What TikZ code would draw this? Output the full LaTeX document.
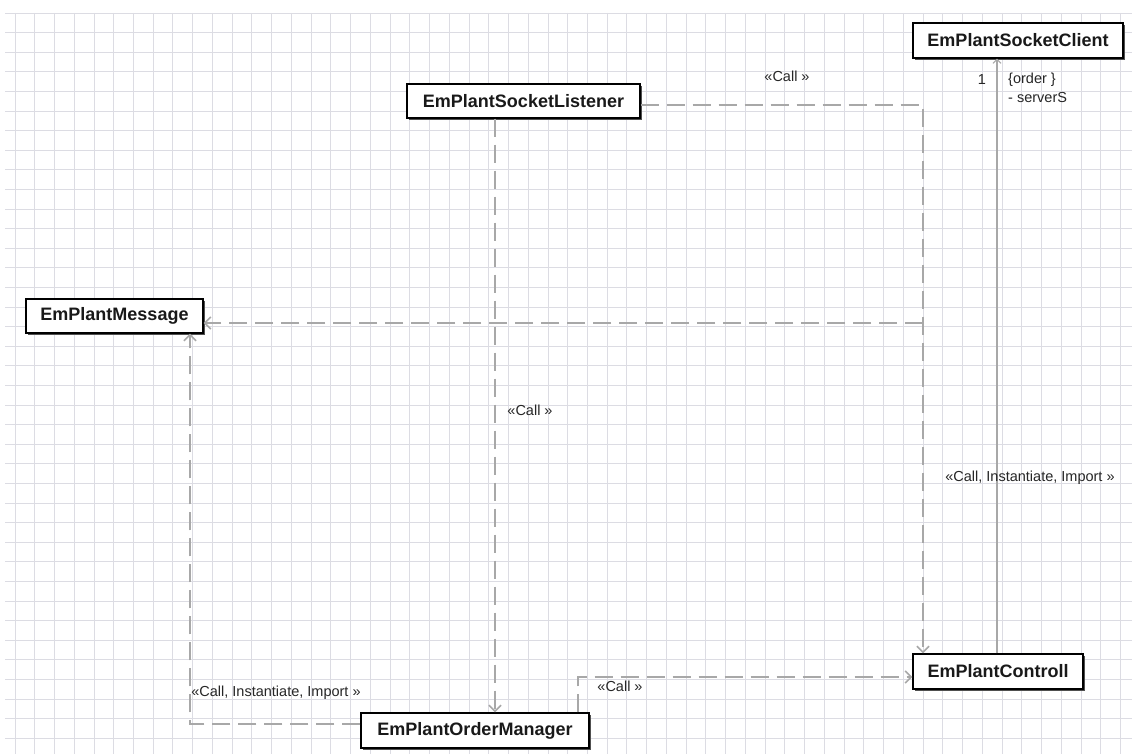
\documentclass[tikz,border=0pt]{standalone}
\usepackage{fontspec}
\setmainfont{Liberation Sans}
\usetikzlibrary{arrows.meta,shadows}
\definecolor{gridcol}{RGB}{220,220,227}
\definecolor{linkcol}{RGB}{168,168,168}
\definecolor{shadowcol}{RGB}{80,80,80}
\begin{document}
\begin{tikzpicture}[x=1pt,y=-1pt,
  classbox/.style={draw=black,line width=1.3pt,fill=white,inner sep=0pt,
    font=\fontsize{18}{20}\selectfont\bfseries,text=black!90,
    drop shadow={shadow xshift=2pt,shadow yshift=-2pt,fill=shadowcol,opacity=1}},
  gridline/.style={draw=gridcol,line width=0.9pt},
  dep/.style={draw=linkcol,line width=2pt,dash pattern=on 18pt off 8pt,
    -{Straight Barb[length=6pt,width=12pt,line width=1.6pt]}},
  assoc/.style={draw=linkcol,line width=1.5pt,
    -{Straight Barb[length=4pt,width=8pt,line width=1pt]}},
  lbl/.style={font=\fontsize{14.5}{16}\selectfont,text=black!85,inner sep=0pt}]
\useasboundingbox (0,0) rectangle (1132,754);
\fill[white] (0,0) rectangle (1132,754);
% background grid
\foreach \k in {0,...,56} \draw[gridline] ({15+19.74*\k},13) -- ({15+19.74*\k},754);
\foreach \k in {0,...,37} \draw[gridline] (5,{13+19.6*\k}) -- (1132,{13+19.6*\k});

% classes
\node[classbox,minimum width=233pt,minimum height=34pt] (listener) at (523.5,101) {EmPlantSocketListener};
\node[classbox,minimum width=210pt,minimum height=35pt] (client) at (1018,40.5) {EmPlantSocketClient};
\node[classbox,minimum width=177pt,minimum height=34pt] (message) at (114.5,316) {EmPlantMessage};
\node[classbox,minimum width=170pt,minimum height=35pt] (controll) at (998,671.5) {EmPlantControll};
\node[classbox,minimum width=228pt,minimum height=35pt] (order) at (475,730.5) {EmPlantOrderManager};

% routing columns and rows
\coordinate (colL) at (495,0);
\coordinate (colC) at (923,0);
\coordinate (colM) at (190,0);
\coordinate (colO) at (578,0);
\coordinate (colA) at (997,0);
\coordinate (rowL) at (0,105);
\coordinate (rowO) at (0,724);
\coordinate (rowC) at (0,677);
\coordinate (join) at (923,323);

% dependencies
\draw[dep] (listener.east |- rowL) -| (controll.north -| colC);
\draw[dep] (listener.south -| colL) -- (order.north -| colL);
\draw[dep] (join) -- (message.east |- join);
\draw[dep] (order.west |- rowO) -| (message.south -| colM);
\draw[dep] (order.north -| colO) |- (controll.west |- rowC);
% association
\draw[assoc] (controll.north -| colA) -- (client.south -| colA);

% labels
\node[lbl] (l1) at (787,76) {«Call »};
\node[lbl] (l2) at (530,410) {«Call »};
\node[lbl] (l3) at (1030,478) {«Call, Instantiate, Import »};
\node[lbl] (l4) at (276,693) {«Call, Instantiate, Import »};
\node[lbl] (l5) at (620,686) {«Call »};
\node[lbl] (m1) at (982,80) {1};
\node[lbl,anchor=west] (m2) at (1008,80) {\{order \}};
\node[lbl,anchor=west] (m3) at (1008,98) {- serverS};
\end{tikzpicture}
\end{document}
